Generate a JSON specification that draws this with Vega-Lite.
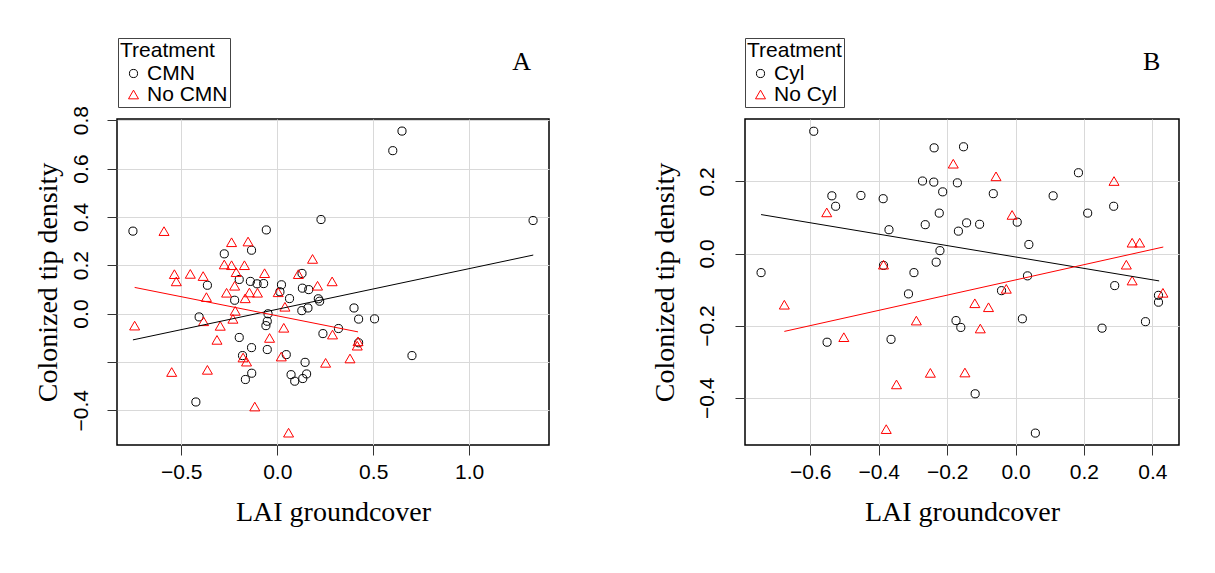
{
  "$schema": "https://vega.github.io/schema/vega-lite/v6.json",
  "background": "white",
  "padding": {"left": 33, "top": 36, "right": 0, "bottom": 0},
  "datasets": {
    "a_pts": [
      {"lai": 0.650, "density": 0.755, "treatment": "CMN"},
      {"lai": 0.602, "density": 0.674, "treatment": "CMN"},
      {"lai": 0.228, "density": 0.389, "treatment": "CMN"},
      {"lai": 1.333, "density": 0.385, "treatment": "CMN"},
      {"lai": -0.752, "density": 0.341, "treatment": "CMN"},
      {"lai": -0.057, "density": 0.346, "treatment": "CMN"},
      {"lai": -0.134, "density": 0.262, "treatment": "CMN"},
      {"lai": -0.276, "density": 0.247, "treatment": "CMN"},
      {"lai": 0.129, "density": 0.166, "treatment": "CMN"},
      {"lai": -0.364, "density": 0.117, "treatment": "CMN"},
      {"lai": -0.198, "density": 0.141, "treatment": "CMN"},
      {"lai": -0.140, "density": 0.133, "treatment": "CMN"},
      {"lai": -0.105, "density": 0.123, "treatment": "CMN"},
      {"lai": -0.071, "density": 0.124, "treatment": "CMN"},
      {"lai": 0.022, "density": 0.119, "treatment": "CMN"},
      {"lai": 0.014, "density": 0.090, "treatment": "CMN"},
      {"lai": 0.131, "density": 0.105, "treatment": "CMN"},
      {"lai": 0.164, "density": 0.099, "treatment": "CMN"},
      {"lai": 0.064, "density": 0.062, "treatment": "CMN"},
      {"lai": 0.214, "density": 0.061, "treatment": "CMN"},
      {"lai": 0.221, "density": 0.051, "treatment": "CMN"},
      {"lai": -0.222, "density": 0.055, "treatment": "CMN"},
      {"lai": 0.400, "density": 0.023, "treatment": "CMN"},
      {"lai": 0.128, "density": 0.012, "treatment": "CMN"},
      {"lai": 0.160, "density": 0.023, "treatment": "CMN"},
      {"lai": 0.424, "density": -0.023, "treatment": "CMN"},
      {"lai": 0.507, "density": -0.022, "treatment": "CMN"},
      {"lai": -0.407, "density": -0.014, "treatment": "CMN"},
      {"lai": -0.048, "density": -0.001, "treatment": "CMN"},
      {"lai": -0.052, "density": -0.032, "treatment": "CMN"},
      {"lai": -0.059, "density": -0.050, "treatment": "CMN"},
      {"lai": 0.238, "density": -0.083, "treatment": "CMN"},
      {"lai": 0.319, "density": -0.062, "treatment": "CMN"},
      {"lai": -0.198, "density": -0.099, "treatment": "CMN"},
      {"lai": -0.134, "density": -0.141, "treatment": "CMN"},
      {"lai": -0.181, "density": -0.174, "treatment": "CMN"},
      {"lai": -0.052, "density": -0.149, "treatment": "CMN"},
      {"lai": 0.047, "density": -0.170, "treatment": "CMN"},
      {"lai": 0.145, "density": -0.202, "treatment": "CMN"},
      {"lai": 0.424, "density": -0.121, "treatment": "CMN"},
      {"lai": 0.702, "density": -0.174, "treatment": "CMN"},
      {"lai": -0.133, "density": -0.247, "treatment": "CMN"},
      {"lai": -0.166, "density": -0.273, "treatment": "CMN"},
      {"lai": 0.072, "density": -0.253, "treatment": "CMN"},
      {"lai": 0.091, "density": -0.280, "treatment": "CMN"},
      {"lai": 0.133, "density": -0.269, "treatment": "CMN"},
      {"lai": 0.153, "density": -0.250, "treatment": "CMN"},
      {"lai": -0.424, "density": -0.366, "treatment": "CMN"},
      {"lai": -0.590, "density": 0.341, "treatment": "No CMN"},
      {"lai": -0.238, "density": 0.295, "treatment": "No CMN"},
      {"lai": -0.152, "density": 0.298, "treatment": "No CMN"},
      {"lai": 0.184, "density": 0.226, "treatment": "No CMN"},
      {"lai": -0.276, "density": 0.203, "treatment": "No CMN"},
      {"lai": -0.238, "density": 0.200, "treatment": "No CMN"},
      {"lai": -0.171, "density": 0.200, "treatment": "No CMN"},
      {"lai": -0.214, "density": 0.171, "treatment": "No CMN"},
      {"lai": -0.066, "density": 0.167, "treatment": "No CMN"},
      {"lai": 0.110, "density": 0.163, "treatment": "No CMN"},
      {"lai": -0.536, "density": 0.163, "treatment": "No CMN"},
      {"lai": -0.453, "density": 0.164, "treatment": "No CMN"},
      {"lai": -0.386, "density": 0.155, "treatment": "No CMN"},
      {"lai": -0.526, "density": 0.133, "treatment": "No CMN"},
      {"lai": 0.286, "density": 0.133, "treatment": "No CMN"},
      {"lai": 0.210, "density": 0.115, "treatment": "No CMN"},
      {"lai": -0.222, "density": 0.115, "treatment": "No CMN"},
      {"lai": -0.369, "density": 0.068, "treatment": "No CMN"},
      {"lai": -0.264, "density": 0.086, "treatment": "No CMN"},
      {"lai": -0.145, "density": 0.087, "treatment": "No CMN"},
      {"lai": -0.103, "density": 0.086, "treatment": "No CMN"},
      {"lai": -0.167, "density": 0.063, "treatment": "No CMN"},
      {"lai": 0.005, "density": 0.088, "treatment": "No CMN"},
      {"lai": 0.040, "density": 0.028, "treatment": "No CMN"},
      {"lai": -0.219, "density": 0.011, "treatment": "No CMN"},
      {"lai": -0.231, "density": -0.022, "treatment": "No CMN"},
      {"lai": -0.384, "density": -0.032, "treatment": "No CMN"},
      {"lai": -0.743, "density": -0.050, "treatment": "No CMN"},
      {"lai": -0.297, "density": -0.051, "treatment": "No CMN"},
      {"lai": 0.034, "density": -0.059, "treatment": "No CMN"},
      {"lai": -0.314, "density": -0.109, "treatment": "No CMN"},
      {"lai": -0.040, "density": -0.101, "treatment": "No CMN"},
      {"lai": 0.288, "density": -0.087, "treatment": "No CMN"},
      {"lai": 0.421, "density": -0.115, "treatment": "No CMN"},
      {"lai": 0.417, "density": -0.133, "treatment": "No CMN"},
      {"lai": 0.021, "density": -0.178, "treatment": "No CMN"},
      {"lai": -0.178, "density": -0.182, "treatment": "No CMN"},
      {"lai": -0.160, "density": -0.199, "treatment": "No CMN"},
      {"lai": 0.379, "density": -0.186, "treatment": "No CMN"},
      {"lai": 0.252, "density": -0.204, "treatment": "No CMN"},
      {"lai": -0.550, "density": -0.242, "treatment": "No CMN"},
      {"lai": -0.364, "density": -0.233, "treatment": "No CMN"},
      {"lai": -0.117, "density": -0.385, "treatment": "No CMN"},
      {"lai": 0.059, "density": -0.493, "treatment": "No CMN"}
    ],
    "a_fit": [
      {"lai": -0.752, "density": -0.109, "treatment": "CMN"},
      {"lai": 1.334, "density": 0.242, "treatment": "CMN"},
      {"lai": -0.743, "density": 0.108, "treatment": "No CMN"},
      {"lai": 0.421, "density": -0.076, "treatment": "No CMN"}
    ],
    "b_pts": [
      {"lai": -0.590, "density": 0.339, "group": "Cyl"},
      {"lai": -0.238, "density": 0.293, "group": "Cyl"},
      {"lai": -0.152, "density": 0.296, "group": "Cyl"},
      {"lai": 0.184, "density": 0.224, "group": "Cyl"},
      {"lai": -0.272, "density": 0.201, "group": "Cyl"},
      {"lai": -0.239, "density": 0.198, "group": "Cyl"},
      {"lai": -0.170, "density": 0.196, "group": "Cyl"},
      {"lai": -0.213, "density": 0.171, "group": "Cyl"},
      {"lai": -0.537, "density": 0.160, "group": "Cyl"},
      {"lai": -0.452, "density": 0.161, "group": "Cyl"},
      {"lai": -0.387, "density": 0.152, "group": "Cyl"},
      {"lai": -0.526, "density": 0.131, "group": "Cyl"},
      {"lai": -0.065, "density": 0.166, "group": "Cyl"},
      {"lai": 0.110, "density": 0.160, "group": "Cyl"},
      {"lai": 0.211, "density": 0.112, "group": "Cyl"},
      {"lai": 0.287, "density": 0.131, "group": "Cyl"},
      {"lai": -0.223, "density": 0.112, "group": "Cyl"},
      {"lai": 0.005, "density": 0.087, "group": "Cyl"},
      {"lai": -0.264, "density": 0.080, "group": "Cyl"},
      {"lai": -0.143, "density": 0.085, "group": "Cyl"},
      {"lai": -0.105, "density": 0.081, "group": "Cyl"},
      {"lai": -0.167, "density": 0.062, "group": "Cyl"},
      {"lai": -0.370, "density": 0.066, "group": "Cyl"},
      {"lai": 0.039, "density": 0.025, "group": "Cyl"},
      {"lai": -0.221, "density": 0.008, "group": "Cyl"},
      {"lai": -0.232, "density": -0.024, "group": "Cyl"},
      {"lai": -0.386, "density": -0.033, "group": "Cyl"},
      {"lai": -0.744, "density": -0.053, "group": "Cyl"},
      {"lai": -0.297, "density": -0.053, "group": "Cyl"},
      {"lai": 0.035, "density": -0.062, "group": "Cyl"},
      {"lai": -0.313, "density": -0.112, "group": "Cyl"},
      {"lai": -0.041, "density": -0.103, "group": "Cyl"},
      {"lai": 0.290, "density": -0.089, "group": "Cyl"},
      {"lai": 0.418, "density": -0.116, "group": "Cyl"},
      {"lai": 0.418, "density": -0.135, "group": "Cyl"},
      {"lai": -0.174, "density": -0.186, "group": "Cyl"},
      {"lai": -0.160, "density": -0.205, "group": "Cyl"},
      {"lai": 0.020, "density": -0.181, "group": "Cyl"},
      {"lai": 0.253, "density": -0.207, "group": "Cyl"},
      {"lai": 0.380, "density": -0.189, "group": "Cyl"},
      {"lai": -0.551, "density": -0.246, "group": "Cyl"},
      {"lai": -0.364, "density": -0.238, "group": "Cyl"},
      {"lai": -0.118, "density": -0.389, "group": "Cyl"},
      {"lai": 0.058, "density": -0.498, "group": "Cyl"},
      {"lai": -0.182, "density": 0.249, "group": "No Cyl"},
      {"lai": -0.057, "density": 0.214, "group": "No Cyl"},
      {"lai": 0.288, "density": 0.201, "group": "No Cyl"},
      {"lai": -0.552, "density": 0.114, "group": "No Cyl"},
      {"lai": -0.010, "density": 0.107, "group": "No Cyl"},
      {"lai": 0.341, "density": 0.030, "group": "No Cyl"},
      {"lai": 0.363, "density": 0.030, "group": "No Cyl"},
      {"lai": -0.386, "density": -0.031, "group": "No Cyl"},
      {"lai": 0.324, "density": -0.031, "group": "No Cyl"},
      {"lai": 0.341, "density": -0.075, "group": "No Cyl"},
      {"lai": -0.027, "density": -0.098, "group": "No Cyl"},
      {"lai": 0.431, "density": -0.109, "group": "No Cyl"},
      {"lai": -0.676, "density": -0.142, "group": "No Cyl"},
      {"lai": -0.119, "density": -0.138, "group": "No Cyl"},
      {"lai": -0.079, "density": -0.149, "group": "No Cyl"},
      {"lai": -0.290, "density": -0.186, "group": "No Cyl"},
      {"lai": -0.103, "density": -0.208, "group": "No Cyl"},
      {"lai": -0.502, "density": -0.232, "group": "No Cyl"},
      {"lai": -0.249, "density": -0.331, "group": "No Cyl"},
      {"lai": -0.148, "density": -0.330, "group": "No Cyl"},
      {"lai": -0.348, "density": -0.363, "group": "No Cyl"},
      {"lai": -0.378, "density": -0.487, "group": "No Cyl"}
    ],
    "b_fit": [
      {"lai": -0.744, "density": 0.108, "group": "Cyl"},
      {"lai": 0.420, "density": -0.076, "group": "Cyl"},
      {"lai": -0.676, "density": -0.216, "group": "No Cyl"},
      {"lai": 0.432, "density": 0.018, "group": "No Cyl"}
    ]
  },
  "config": {
    "view": {"stroke": "black", "strokeWidth": 1.5},
    "axis": {
      "domain": false,
      "grid": true,
      "gridColor": "#d9d9d9",
      "gridWidth": 1,
      "tickColor": "#333333",
      "tickSize": 10,
      "labelFont": "Liberation Sans",
      "labelFontSize": 21,
      "labelColor": "black",
      "titleFont": "Liberation Serif",
      "titleFontSize": 28,
      "titleFontWeight": "normal",
      "titleColor": "black"
    },
    "axisX": {"labelPadding": 6, "titlePadding": 16},
    "axisY": {"labelAngle": 270, "labelAlign": "center", "labelBaseline": "bottom", "labelPadding": 16, "titlePadding": 8},
    "legend": {
      "orient": "none",
      "strokeColor": "#444444",
      "padding": 2,
      "titleFont": "Liberation Sans",
      "titleFontSize": 21,
      "titleFontWeight": "normal",
      "titleColor": "black",
      "titlePadding": 2,
      "labelFont": "Liberation Sans",
      "labelFontSize": 21,
      "labelColor": "black",
      "labelOffset": 3,
      "symbolSize": 40,
      "symbolStrokeWidth": 1,
      "symbolOffset": 3,
      "rowPadding": -3
    }
  },
  "resolve": {
    "scale": {"color": "independent", "shape": "independent", "size": "independent"},
    "legend": {"color": "independent", "shape": "independent"}
  },
  "spacing": 100,
  "hconcat": [
    {
      "width": 432,
      "height": 326,
      "layer": [
        {
          "data": {"name": "a_pts"},
          "mark": {"type": "point", "filled": false, "strokeWidth": 1, "opacity": 1},
          "encoding": {
            "x": {
              "field": "lai", "type": "quantitative",
              "scale": {"domain": [-0.835, 1.416], "nice": false, "zero": false},
              "axis": {"values": [-0.5, 0, 0.5, 1], "format": ".1f", "title": "LAI groundcover"}
            },
            "y": {
              "field": "density", "type": "quantitative",
              "scale": {"domain": [-0.544, 0.805], "nice": false, "zero": false},
              "axis": {
                "values": [-0.4, -0.2, 0, 0.2, 0.4, 0.6, 0.8],
                "format": ".1f",
                "labelExpr": "abs(datum.value + 0.2) < 0.001 ? '' : datum.label",
                "title": "Colonized tip density"
              }
            },
            "shape": {
              "field": "treatment", "type": "nominal",
              "scale": {"domain": ["CMN", "No CMN"], "range": ["circle", "triangle-up"]},
              "legend": {"title": "Treatment", "legendX": 1, "legendY": -81}
            },
            "color": {
              "field": "treatment", "type": "nominal",
              "scale": {"domain": ["CMN", "No CMN"], "range": ["black", "#ff0000"]},
              "legend": {"title": "Treatment", "legendX": 1, "legendY": -81}
            },
            "size": {
              "field": "treatment", "type": "nominal",
              "scale": {"domain": ["CMN", "No CMN"], "range": [66, 100]},
              "legend": null
            }
          }
        },
        {
          "data": {"name": "a_fit"},
          "transform": [{"filter": "datum.treatment == 'CMN'"}],
          "mark": {"type": "line", "color": "black", "strokeWidth": 1},
          "encoding": {
            "x": {"field": "lai", "type": "quantitative"},
            "y": {"field": "density", "type": "quantitative"}
          }
        },
        {
          "data": {"name": "a_fit"},
          "transform": [{"filter": "datum.treatment == 'No CMN'"}],
          "mark": {"type": "line", "color": "#ff0000", "strokeWidth": 1},
          "encoding": {
            "x": {"field": "lai", "type": "quantitative"},
            "y": {"field": "density", "type": "quantitative"}
          }
        },
        {
          "data": {"values": [{"lai": 1.274, "density": 1.008, "panel": "A"}]},
          "mark": {"type": "text", "font": "Liberation Serif", "fontSize": 26, "color": "black", "baseline": "alphabetic", "align": "center"},
          "encoding": {
            "x": {"field": "lai", "type": "quantitative"},
            "y": {"field": "density", "type": "quantitative"},
            "text": {"field": "panel"}
          }
        }
      ]
    },
    {
      "width": 434,
      "height": 326,
      "layer": [
        {
          "data": {"name": "b_pts"},
          "mark": {"type": "point", "filled": false, "strokeWidth": 1, "opacity": 1},
          "encoding": {
            "x": {
              "field": "lai", "type": "quantitative",
              "scale": {"domain": [-0.791, 0.478], "nice": false, "zero": false},
              "axis": {"values": [-0.6, -0.4, -0.2, 0, 0.2, 0.4], "format": ".1f", "title": "LAI groundcover"}
            },
            "y": {
              "field": "density", "type": "quantitative",
              "scale": {"domain": [-0.531, 0.373], "nice": false, "zero": false},
              "axis": {"values": [-0.4, -0.2, 0, 0.2], "format": ".1f", "title": "Colonized tip density", "labelPadding": 18, "titlePadding": 17}
            },
            "shape": {
              "field": "group", "type": "nominal",
              "scale": {"domain": ["Cyl", "No Cyl"], "range": ["circle", "triangle-up"]},
              "legend": {"title": "Treatment", "legendX": 0, "legendY": -81}
            },
            "color": {
              "field": "group", "type": "nominal",
              "scale": {"domain": ["Cyl", "No Cyl"], "range": ["black", "#ff0000"]},
              "legend": {"title": "Treatment", "legendX": 0, "legendY": -81}
            },
            "size": {
              "field": "group", "type": "nominal",
              "scale": {"domain": ["Cyl", "No Cyl"], "range": [66, 100]},
              "legend": null
            }
          }
        },
        {
          "data": {"name": "b_fit"},
          "transform": [{"filter": "datum.group == 'Cyl'"}],
          "mark": {"type": "line", "color": "black", "strokeWidth": 1},
          "encoding": {
            "x": {"field": "lai", "type": "quantitative"},
            "y": {"field": "density", "type": "quantitative"}
          }
        },
        {
          "data": {"name": "b_fit"},
          "transform": [{"filter": "datum.group == 'No Cyl'"}],
          "mark": {"type": "line", "color": "#ff0000", "strokeWidth": 1},
          "encoding": {
            "x": {"field": "lai", "type": "quantitative"},
            "y": {"field": "density", "type": "quantitative"}
          }
        },
        {
          "data": {"values": [{"lai": 0.398, "density": 0.508, "panel": "B"}]},
          "mark": {"type": "text", "font": "Liberation Serif", "fontSize": 26, "color": "black", "baseline": "alphabetic", "align": "center"},
          "encoding": {
            "x": {"field": "lai", "type": "quantitative"},
            "y": {"field": "density", "type": "quantitative"},
            "text": {"field": "panel"}
          }
        }
      ]
    }
  ]
}
